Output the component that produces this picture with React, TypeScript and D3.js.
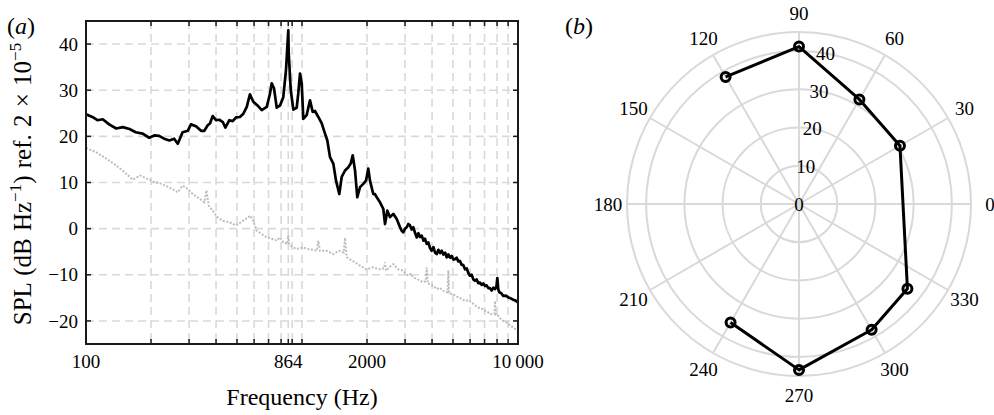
import React from "react";
import * as d3 from "d3";

// ---------- Panel (a): spectra ----------
const blackFreq = [100, 107, 113, 119.5, 128, 138, 148, 159, 170, 183, 196, 207, 218, 230, 243, 256, 266, 280, 296, 306, 323, 341, 353, 366, 375, 386, 400, 414, 430, 442, 461, 478, 495, 516, 535, 555, 574, 595, 628, 651, 687, 711, 724, 742, 764, 791, 819, 843, 864, 868, 887, 912, 945, 961, 979, 997, 1014, 1051, 1089, 1121, 1148, 1190, 1234, 1278, 1310, 1348, 1396, 1437, 1488, 1527, 1582, 1639, 1681, 1717, 1760, 1803, 1856, 1922, 1978, 2027, 2064, 2138, 2178, 2218, 2297, 2379, 2423, 2483, 2555, 2647, 2745, 2843, 2890, 2944, 3000, 3053, 3106, 3162, 3220, 3276, 3336, 3396, 3460, 3518, 3583, 3650, 3710, 3779, 3850, 3913, 3985, 4060, 4130, 4204, 4280, 4360, 4436, 4512, 4600, 4677, 4758, 4845, 4934, 5020, 5109, 5200, 5291, 5388, 5480, 5580, 5684, 5790, 5890, 5995, 6105, 6210, 6323, 6430, 6549, 6669, 6790, 6910, 7036, 7160, 7290, 7421, 7550, 7690, 7826, 7950, 8022, 8107, 8194, 8370, 8551, 8780, 9018, 9250, 9511, 9750, 10000];
const blackSPL = [24.8, 24.2, 23.5, 23.7, 22.6, 21.7, 22.0, 21.6, 20.9, 20.6, 19.7, 20.2, 20.1, 19.5, 19.1, 19.5, 18.4, 20.9, 21.2, 22.6, 22.2, 21.2, 21.2, 22.4, 22.8, 24.4, 23.5, 23.6, 23.1, 21.9, 23.5, 23.3, 24.1, 24.2, 24.9, 26.4, 29.1, 27.5, 26.5, 25.7, 26.4, 29.3, 31.5, 30.4, 26.2, 26.7, 28.5, 34.3, 43.0, 38.0, 30.0, 25.8, 26.2, 29.3, 33.6, 31.5, 23.8, 24.6, 27.8, 25.3, 25.5, 24.2, 22.8, 20.6, 19.1, 15.5, 14.1, 10.4, 7.5, 11.2, 12.6, 13.3, 14.1, 15.9, 12.6, 6.8, 9.0, 9.7, 10.4, 13.0, 10.4, 7.5, 7.5, 6.8, 5.7, 4.3, 1.0, 3.9, 2.5, 3.2, 2.1, 0.3, -0.4, -0.8, 0.0, 0.3, 1.0, 0.7, -0.2, 0.3, -0.9, -1.9, -1.0, -1.8, -1.5, -2.6, -2.2, -3.3, -3.0, -4.2, -4.8, -4.0, -5.2, -5.5, -4.6, -5.3, -4.8, -5.6, -5.2, -6.2, -5.6, -6.3, -5.9, -6.7, -6.6, -6.3, -7.1, -7.0, -7.8, -7.9, -8.8, -8.6, -9.6, -10.2, -10.0, -11.0, -11.3, -11.0, -11.8, -11.7, -12.2, -11.9, -12.4, -12.3, -12.9, -12.9, -13.4, -12.8, -13.1, -12.5, -10.7, -13.2, -13.8, -14.0, -14.6, -14.5, -14.9, -15.1, -15.4, -15.6, -16.0];

const grayFreq = [100, 111, 124, 138, 151, 165, 178, 192, 207, 218, 234, 250, 266, 280, 296, 312, 335, 353, 361, 370, 386, 405, 430, 461, 495, 522, 548, 577, 595, 615, 651, 687, 724, 764, 791, 819, 855, 864, 873, 887, 939, 1014, 1063, 1130, 1170, 1190, 1210, 1245, 1300, 1396, 1488, 1560, 1582, 1610, 1717, 1856, 1978, 2138, 2297, 2400, 2423, 2450, 2560, 2647, 2792, 2944, 3030, 3106, 3190, 3276, 3400, 3518, 3650, 3740, 3779, 3820, 3913, 4050, 4204, 4350, 4512, 4640, 4720, 4758, 4800, 4934, 5100, 5291, 5480, 5684, 5890, 6105, 6320, 6549, 6790, 7036, 7220, 7421, 7650, 7780, 7826, 7880, 8107, 8330, 8551, 8780, 9018, 9250, 9511, 9750, 10000];
const graySPL = [17.5, 16.6, 15.2, 13.7, 12.2, 10.6, 11.5, 10.8, 10.1, 9.9, 9.3, 8.6, 7.9, 9.3, 8.6, 7.5, 6.5, 5.7, 8.3, 5.0, 3.9, 2.5, 1.7, 1.4, 0.7, 1.4, 2.1, 2.8, 1.7, -0.4, -1.2, -1.9, -2.2, -2.6, -1.9, -3.0, -3.3, -1.5, -3.4, -3.7, -4.4, -4.1, -4.4, -4.6, -4.8, -2.6, -4.8, -4.8, -4.8, -5.5, -4.8, -5.2, -2.0, -6.2, -7.0, -8.0, -8.8, -8.4, -8.8, -8.6, -7.3, -9.1, -8.2, -7.7, -8.8, -9.1, -9.8, -10.2, -9.8, -10.6, -10.9, -11.3, -11.6, -11.4, -8.4, -11.9, -12.0, -12.4, -13.1, -12.8, -13.5, -13.6, -13.8, -9.1, -14.0, -14.2, -14.4, -14.9, -15.2, -15.7, -15.5, -16.0, -16.6, -17.1, -17.3, -17.8, -18.0, -18.5, -18.6, -18.4, -15.7, -18.7, -18.9, -19.6, -20.0, -20.2, -20.7, -21.0, -21.5, -21.8, -22.2];

const freqLabelTicks = [100, 864, 2000, 10000];
const freqLabelTexts = ["100", "864", "2000", "10\u2009000"];
const freqGridLines = [200, 300, 400, 500, 600, 700, 800, 864, 900, 1000, 2000, 3000, 4000, 5000, 6000, 7000, 8000, 9000];
const splTicks = [-20, -10, 0, 10, 20, 30, 40];

// ---------- Panel (b): directivity ----------
const polarAngles = [120, 90, 60, 30, 322, 300, 270, 240];
const polarLevels = [38.4, 41.2, 31.6, 30.5, 36.0, 38.0, 43.4, 35.8];
const ringTicks = [0, 10, 20, 30, 40];
const angleTicks = [0, 30, 60, 90, 120, 150, 180, 210, 240, 270, 300, 330];

const FONT = "Liberation Serif, Times New Roman, DejaVu Serif, serif";
const GRID = "#d9d9d9";

export default function App() {
  const W = 994, H = 415;
  const left = 86, right = 518, top = 21, bottom = 344;
  const x = d3.scaleLog().domain([100, 10000]).range([left, right]);
  const y = d3.scaleLinear().domain([-25, 45]).range([bottom, top]);

  const line = d3
    .line<[number, number]>()
    .x((d) => x(d[0]))
    .y((d) => y(d[1]));
  const blackPath = line(blackFreq.map((f, i) => [f, blackSPL[i]]))!;
  const grayPath = line(grayFreq.map((f, i) => [f, graySPL[i]]))!;

  // polar
  const cx = 799, cy = 204, R = 172;
  const r = d3.scaleLinear().domain([0, 45]).range([0, R]);
  const pt = (ang: number, v: number): [number, number] => {
    const a = (ang * Math.PI) / 180;
    return [cx + r(v) * Math.cos(a), cy - r(v) * Math.sin(a)];
  };
  const polarPts = polarAngles.map((a, i) => pt(a, polarLevels[i]));
  const polarPath = d3.line()(polarPts)!;

  return (
    <svg
      width={W}
      height={H}
      style={{ position: "absolute", left: 0, top: 0, background: "#fff", fontFamily: FONT }}
    >
      <rect x={0} y={0} width={W} height={H} fill="#fff" />
      {/* ---------- panel a ---------- */}
      <text x={7} y={34} fontSize={24}>
        (<tspan fontStyle="italic">a</tspan>)
      </text>
      {splTicks.map((t) => (
        <line key={"hg" + t} x1={left} x2={right} y1={y(t)} y2={y(t)} stroke={GRID} strokeWidth={1.6} strokeDasharray="8 5" />
      ))}
      {freqGridLines.map((f) => (
        <line key={"vg" + f} x1={x(f)} x2={x(f)} y1={top} y2={bottom} stroke={GRID} strokeWidth={1.6} strokeDasharray="8 5" />
      ))}
      <path d={grayPath} fill="none" stroke="#bdbdbd" strokeWidth={2} strokeDasharray="2 1.6" />
      <path d={blackPath} fill="none" stroke="#000" strokeWidth={2.7} strokeLinejoin="round" />
      <rect x={left} y={top} width={right - left} height={bottom - top} fill="none" stroke="#1a1a1a" strokeWidth={2} />
      {freqGridLines.map((f) => (
        <g key={"t" + f}>
          <line x1={x(f)} x2={x(f)} y1={bottom} y2={bottom - 5} stroke="#1a1a1a" strokeWidth={1.5} />
          <line x1={x(f)} x2={x(f)} y1={top} y2={top + 5} stroke="#1a1a1a" strokeWidth={1.5} />
        </g>
      ))}
      {splTicks.map((t) => (
        <g key={"yt" + t}>
          <line x1={left} x2={left + 5} y1={y(t)} y2={y(t)} stroke="#1a1a1a" strokeWidth={1.5} />
          <line x1={right} x2={right - 5} y1={y(t)} y2={y(t)} stroke="#1a1a1a" strokeWidth={1.5} />
          <text x={78} y={y(t)} dy="0.35em" textAnchor="end" fontSize={19}>
            {t < 0 ? "\u2212" + Math.abs(t) : String(t)}
          </text>
        </g>
      ))}
      {freqLabelTicks.map((f, i) => (
        <text key={"xl" + f} x={x(f)} y={368} textAnchor="middle" fontSize={19}>
          {freqLabelTexts[i]}
        </text>
      ))}
      <text x={(left + right) / 2} y={405} textAnchor="middle" fontSize={24}>
        Frequency (Hz)
      </text>
      <text transform="translate(31,184) rotate(-90)" textAnchor="middle" fontSize={25} wordSpacing={1}>
        <tspan>SPL (dB Hz</tspan>
        <tspan dy={-10} fontSize={17}>{"\u22121"}</tspan>
        <tspan dy={10}>) ref. 2 × 10</tspan>
        <tspan dy={-10} fontSize={17}>{"\u22125"}</tspan>
      </text>

      {/* ---------- panel b ---------- */}
      <text x={565} y={34} fontSize={24}>
        (<tspan fontStyle="italic">b</tspan>)
      </text>
      {[...ringTicks.filter((t) => t > 0), 45].map((t) => (
        <circle key={"ring" + t} cx={cx} cy={cy} r={r(t)} fill="none" stroke={GRID} strokeWidth={2} />
      ))}
      {angleTicks.map((a) => {
        const [ex, ey] = pt(a, 45);
        const rad = (a * Math.PI) / 180;
        const lx = cx + (R + 19) * Math.cos(rad);
        const ly = cy - (R + 19) * Math.sin(rad);
        return (
          <g key={"ang" + a}>
            <line x1={cx} y1={cy} x2={ex} y2={ey} stroke={GRID} strokeWidth={2} />
            <text x={lx} y={ly} dy="0.35em" textAnchor="middle" fontSize={19}>
              {a}
            </text>
          </g>
        );
      })}
      {ringTicks.map((t) => {
        const [lx, ly] = pt(80, t);
        return (
          <text key={"rl" + t} x={lx} y={ly} dy="0.35em" textAnchor="middle" fontSize={19}>
            {t}
          </text>
        );
      })}
      <path d={polarPath} fill="none" stroke="#000" strokeWidth={3} strokeLinejoin="round" />
      {polarPts.map(([px, py], i) => (
        <circle key={"pm" + i} cx={px} cy={py} r={4.5} fill="none" stroke="#000" strokeWidth={3} />
      ))}
    </svg>
  );
}
